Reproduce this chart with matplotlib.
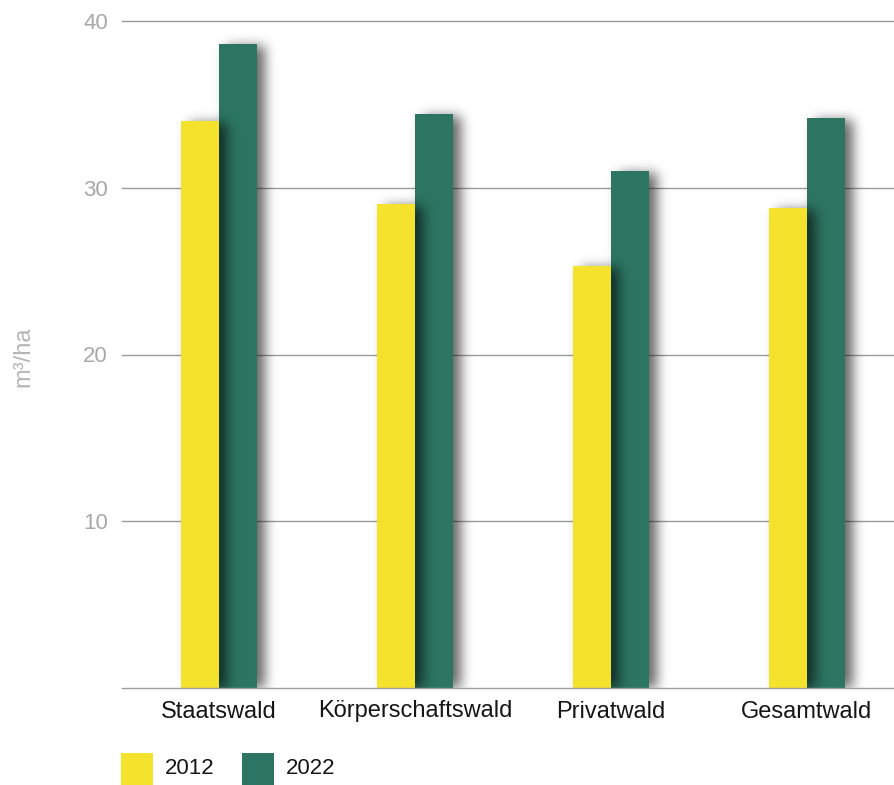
import numpy as np
import matplotlib
matplotlib.use("Agg")
import matplotlib.pyplot as plt
from matplotlib.patches import Rectangle

# Holzvorrat je Hektar nach Eigentumsart
categories = ["Staatswald", "Körperschaftswald", "Privatwald", "Gesamtwald"]
years = ["2012", "2022"]
vorrat_2012 = [34.0, 29.0, 25.3, 28.8]
vorrat_2022 = [38.6, 34.4, 31.0, 34.2]
y_ticks = [10, 20, 30, 40]
y_unit = "m³/ha"

YELLOW = "#F4E22D"
GREEN = "#2C7562"
GRID = "#9c9c9c"
TICK = "#a8a8a8"
TEXT = "#161616"

plt.rcParams["font.family"] = ["Liberation Sans", "DejaVu Sans"]

W, H = 894, 785
fig = plt.figure(figsize=(W / 100, H / 100), dpi=100)
ax = fig.add_axes([122 / W, 97 / H, 772 / W, 667 / H])

x = np.arange(len(categories))
bw = 0.194
bars_a = ax.bar(x - bw / 2, vorrat_2012, bw, color=YELLOW, zorder=2, linewidth=0)
bars_b = ax.bar(x + bw / 2, vorrat_2022, bw, color=GREEN, zorder=4, linewidth=0)

xlim = (-0.495, 3.444)
ylim = (0, 40)
ax.set_xlim(*xlim)
ax.set_ylim(*ylim)


def gauss_blur(a, sigma):
    r = int(3 * sigma)
    k = np.exp(-0.5 * (np.arange(-r, r + 1) / sigma) ** 2)
    k /= k.sum()
    a = np.apply_along_axis(lambda v: np.convolve(v, k, mode="same"), 1, a)
    a = np.apply_along_axis(lambda v: np.convolve(v, k, mode="same"), 0, a)
    return a


bx0, by0, bw_px, bh_px = ax.bbox.bounds
nw, nh = int(round(bw_px)), int(round(bh_px))
top = by0 + bh_px


def bar_mask(bars, dx=0, dy=0):
    m = np.zeros((nh, nw))
    for b in bars:
        (px0, py0) = ax.transData.transform((b.get_x(), 0))
        (px1, py1) = ax.transData.transform((b.get_x() + b.get_width(), b.get_height()))
        c0 = int(round(px0 - bx0 + dx))
        c1 = int(round(px1 - bx0 + dx))
        r0 = int(round(top - py1 + dy))
        r1 = int(round(top - py0 + dy))
        m[max(r0, 0):max(min(r1, nh), 0), max(c0, 0):max(min(c1, nw), 0)] = 1
    return m


def shadow(bars, exclude=None, dx=8, dy=2, sigma=6, alpha=0.6):
    s = gauss_blur(bar_mask(bars, dx, dy), sigma) * alpha
    if exclude is not None:
        s = s * (1 - exclude)
    img = np.zeros((nh, nw, 4))
    img[..., 3] = np.clip(s, 0, 1)
    return img


extent = [xlim[0], xlim[1], ylim[0], ylim[1]]
ax.imshow(shadow(bars_b), extent=extent, aspect="auto", origin="upper",
          interpolation="nearest", zorder=1)
ax.imshow(shadow(bars_a, exclude=bar_mask(bars_a)), extent=extent, aspect="auto",
          origin="upper", interpolation="nearest", zorder=5)
ax.set_xlim(*xlim)
ax.set_ylim(*ylim)

ax.set_yticks(y_ticks)
ax.yaxis.grid(True, color=GRID, linewidth=1)
ax.set_axisbelow(True)
for gl in ax.get_ygridlines():
    gl.set_clip_on(False)
for side in ("top", "right", "left"):
    ax.spines[side].set_visible(False)
ax.spines["bottom"].set_color(GRID)
ax.spines["bottom"].set_linewidth(1)
ax.spines["bottom"].set_zorder(6)

ax.set_xticks(x)
ax.set_xticklabels(categories)
ax.tick_params(axis="y", length=0, pad=10, labelcolor=TICK, labelsize=16)
ax.tick_params(axis="x", length=0, pad=9, labelcolor=TEXT, labelsize=17)

ax.set_ylabel(y_unit, color="#b4b4b4", fontsize=17)
ax.yaxis.set_label_coords(-0.113, 0.497)

# Legende
for xs, xt, col, lab in [(121, 165, YELLOW, years[0]), (242, 286, GREEN, years[1])]:
    fig.add_artist(Rectangle((xs / W, 0), 32 / W, 32 / H, transform=fig.transFigure,
                             facecolor=col, edgecolor="none"))
    fig.text(xt / W, 1 - 769 / H, lab, va="center", ha="left", fontsize=16, color=TEXT)

fig.savefig("out.png", dpi=100)
